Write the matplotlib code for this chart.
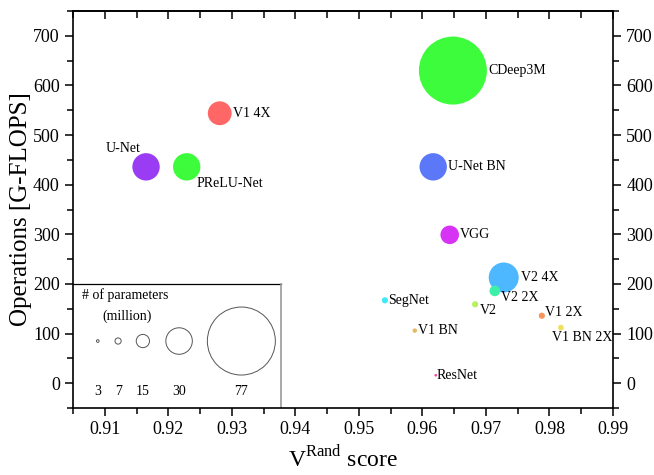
import numpy as np
import matplotlib
matplotlib.use("Agg")
from matplotlib import pyplot as plt
from matplotlib.ticker import MultipleLocator

# Network data.
names = ["CDeep3M", "V1 4X", "U-Net", "PReLU-Net", "U-Net BN", "VGG", "V2 4X",
         "V2 2X", "SegNet", "V2", "V1 2X", "V1 BN 2X", "V1 BN", "ResNet"]
vrand = [0.9648, 0.9281, 0.9165, 0.9229, 0.9617, 0.9643, 0.9728,
         0.9714, 0.9541, 0.9683, 0.9788, 0.9818, 0.9588, 0.9621]
gflops = [630, 544, 436, 436, 436, 299, 213,
          186, 167, 159, 136, 112, 106, 16]
params = [77, 27, 31, 31, 31, 21, 34,
          12, 7, 7, 7, 6.5, 5, 3]
colors = ["#3cfc3c", "#ff6666", "#9b3cf5", "#3cfc3c", "#5a78f8", "#d633f5", "#4db8ff",
          "#3cf0a8", "#40e8f8", "#b8f060", "#f5965a", "#f0e060", "#e8b860", "#ff40a0"]

# Size key.
key_params = [3, 7, 15, 30, 77]
key_x = [0.9089, 0.9121, 0.9160, 0.9217, 0.9315]

# Label offsets in pixels (dx, dy, ha).
label_offsets = {
    "CDeep3M": (35, 0, "left"), "V1 4X": (13, 0, "left"), "U-Net": (-23, 18, "center"),
    "PReLU-Net": (10, -17, "left"), "U-Net BN": (15, 0, "left"), "VGG": (10, 0, "left"),
    "V2 4X": (17, 0, "left"), "V2 2X": (6, -7, "left"), "SegNet": (3, 0, "left"),
    "V2": (5, -6, "left"), "V1 2X": (3, 3, "left"), "V1 BN 2X": (-9, -10, "left"),
    "V1 BN": (3, 0, "left"), "ResNet": (1, 0, "left"),
}

plt.rcParams["font.family"] = ["Liberation Serif", "DejaVu Serif"]
plt.rcParams["mathtext.fontset"] = "custom"
plt.rcParams["mathtext.rm"] = "Liberation Serif"

DPI = 100
PX_PER_PARAM = 0.883  # bubble diameter in pixels per million parameters


def bubble_size(p):
    # scatter size is area in points^2, diameter linear in parameter count
    d_pt = PX_PER_PARAM * np.asarray(p, dtype=float) * 72.0 / DPI
    return d_pt ** 2


fig = plt.figure(figsize=(6.54, 4.75), dpi=DPI)
ax = fig.add_axes([0.1116, 0.141, 0.8257, 0.8358])

ax.scatter(vrand, gflops, s=bubble_size(params), c=colors, linewidths=0, zorder=3)

for n, x, y in zip(names, vrand, gflops):
    dx, dy, ha = label_offsets[n]
    ax.annotate(n, (x, y), xytext=(dx, dy), textcoords="offset pixels",
                ha=ha, va="center", fontsize=10, zorder=4)

# Size key box in the lower left corner.
ax.plot([0.905, 0.9378], [200, 200], color="black", lw=0.9, zorder=2)
ax.plot([0.9378, 0.9378], [200, -50], color="#999999", lw=1.2, zorder=2)
ax.scatter(key_x, [85] * len(key_x), s=bubble_size(key_params), facecolors="none",
           edgecolors="#555555", linewidths=0.7, zorder=3)
for x, p in zip(key_x, key_params):
    ax.text(x, -16, str(p), ha="center", va="center", fontsize=10)
ax.text(0.9064, 178, "# of parameters", ha="left", va="center", fontsize=10)
ax.text(0.9135, 134, "(million)", ha="center", va="center", fontsize=10)

ax.set_xlim(0.905, 0.99)
ax.set_ylim(-50, 750)
ax.xaxis.set_minor_locator(MultipleLocator(0.005))
ax.yaxis.set_major_locator(MultipleLocator(100))
ax.yaxis.set_minor_locator(MultipleLocator(50))
ax.set_xticks(np.arange(0.91, 0.991, 0.01))
ax.set_xticklabels(["%.2f" % v for v in np.arange(0.91, 0.991, 0.01)])

ax.tick_params(which="both", bottom=True, left=True, right=True, top=False,
               direction="out", labelright=True, labelsize=13, width=1.1)
ax.tick_params(which="major", length=6)
ax.tick_params(which="minor", length=4)

# Inward ticks on the top edge.
top = ax.secondary_xaxis("top")
top.xaxis.set_major_locator(MultipleLocator(0.01))
top.xaxis.set_minor_locator(MultipleLocator(0.005))
top.tick_params(which="both", direction="in", labeltop=False, width=1.1, length=6)
top.tick_params(which="minor", length=5)

for sp in ax.spines.values():
    sp.set_linewidth(1.2)
top.spines["top"].set_linewidth(1.2)

ax.set_xlabel(r"V$^{\mathrm{Rand}}$ score", fontsize=17, labelpad=5)
ax.set_ylabel("Operations [G-FLOPS]", fontsize=18, labelpad=1)

fig.savefig("out.png", dpi=DPI)
